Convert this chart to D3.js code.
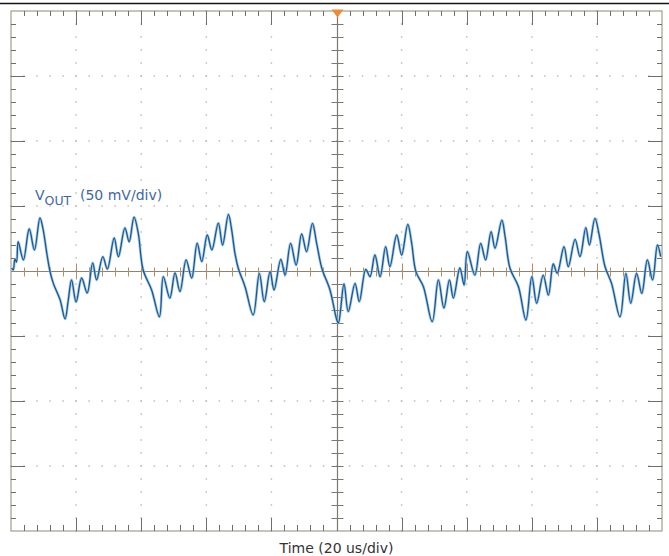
<!DOCTYPE html>
<html>
<head>
<meta charset="utf-8">
<script src="https://cdn.jsdelivr.net/npm/d3@7"></script>
<style>
  html, body { margin: 0; padding: 0; background: #fff; }
  svg { display: block; }
</style>
</head>
<body>
<svg id="chart" width="669" height="556"></svg>
<script>
// Screen layout: 10 horizontal divisions at 20 us/div, 8 vertical at 50 mV/div
const timeDomain = [-100, 100];   // us
const voltDomain = [-200, 200];   // mV
const timePerDiv = 20;
const voltPerDiv = 50;
const minorPerDiv = 5;

// Captured VOUT ripple trace
const timeUs = [-99.8,-99.3,-98.8,-98.3,-97.8,-96.2,-94.4,-92.8,-91.1,-90.1,
  -89.0,-88.0,-87.0,-84.9,-83.4,-82.4,-81.4,-80.0,-78.3,-76.6,
  -74.9,-73.7,-71.8,-70.4,-68.3,-67.0,-65.0,-63.7,-62.2,-60.9,
  -59.4,-56.8,-54.4,-53.2,-51.2,-49.6,-48.1,-46.2,-44.5,-42.8,
  -41.4,-39.7,-38.3,-36.3,-35.0,-33.2,-32.2,-31.2,-30.2,-28.1,
  -25.6,-23.7,-22.2,-20.4,-19.2,-17.1,-15.8,-14.1,-12.4,-10.7,
  -9.2,-7.4,-6.1,-4.5,-2.0,0.1,0.6,2.3,3.6,5.7,
  7.0,9.0,10.3,11.8,13.4,15.1,16.4,18.5,20.0,21.9,
  23.1,24.4,26.7,29.4,31.3,33.0,34.7,35.9,37.9,39.2,
  40.2,42.5,44.3,45.8,47.5,48.7,50.8,51.8,53.3,55.9,
  58.2,60.0,61.5,63.5,65.1,66.6,67.8,69.9,71.2,73.3,
  74.8,76.6,77.7,79.4,80.7,82.5,84.5,87.1,88.9,90.4,
  92.2,93.8,95.5,97.1,98.6,99.6];
const voutMv = [2.3,0.8,9.2,6.9,22.5,8.5,32.3,16.2,40.8,31.5,
  13.6,-0.5,-9.5,-22.3,-36.9,-22.3,-6.9,-23.8,-5.4,-16.9,
  6.2,-6.9,11.0,1.5,25.4,11.0,33.1,22.5,41.5,29.0,
  0.8,-14.6,-35.2,-4.4,-20.8,-1.5,-15.9,8.5,-5.4,21.5,
  7.2,27.7,16.2,36.9,20.0,43.5,31.5,13.6,2.3,-12.1,
  -33.8,-1.8,-23.6,-0.5,-14.6,9.0,-3.1,21.3,4.6,28.5,
  14.8,36.7,21.3,2.1,-14.6,-37.7,-40.0,-10.0,-31.3,-9.5,
  -23.6,1.3,-4.4,12.3,-4.4,18.7,3.3,27.7,12.3,35.9,
  21.3,-0.5,-12.1,-39.0,-6.9,-28.5,-6.9,-20.8,2.3,-10.8,
  14.8,-3.1,21.3,8.5,30.2,17.5,39.2,26.4,2.1,-12.1,
  -37.7,-4.4,-24.8,-3.1,-18.5,5.4,-1.8,18.7,3.3,24.4,
  11.0,33.3,20.0,40.5,27.7,3.3,-9.5,-35.2,-1.8,-24.8,
  -1.8,-17.2,8.5,-6.9,20.0,11.0];

const channelLabel = ["V", "OUT", "(50 mV/div)"];
const timeLabel = "Time (20 us/div)";

const svg = d3.select("#chart");
const plotLeft = 11, plotRight = 662, plotTop = 11, plotBottom = 531;

const x = d3.scaleLinear().domain(timeDomain).range([plotLeft, plotRight]);
const y = d3.scaleLinear().domain(voltDomain).range([plotBottom, plotTop]);

const eps = 1e-6;
const tMajor = d3.range(timeDomain[0], timeDomain[1] + eps, timePerDiv);
const vMajor = d3.range(voltDomain[0], voltDomain[1] + eps, voltPerDiv);
const tMinor = d3.range(timeDomain[0], timeDomain[1] + eps, timePerDiv / minorPerDiv);
const vMinor = d3.range(voltDomain[0], voltDomain[1] + eps, voltPerDiv / minorPerDiv);
const isMajorT = t => Math.abs(t / timePerDiv - Math.round(t / timePerDiv)) < 1e-6;
const isMajorV = v => Math.abs(v / voltPerDiv - Math.round(v / voltPerDiv)) < 1e-6;

// top rule of the capture window
svg.append("line")
  .attr("x1", 0).attr("x2", 669).attr("y1", 3.5).attr("y2", 3.5)
  .attr("stroke", "#151515").attr("stroke-width", 1.6);

// dotted graticule
const grid = svg.append("g").attr("fill", "#bdbdb8");
const innerT = tMajor.filter(t => t > timeDomain[0] && t < timeDomain[1] && t !== 0);
const innerV = vMajor.filter(v => v > voltDomain[0] && v < voltDomain[1] && v !== 0);
const dots = [];
innerT.forEach(t => vMinor.forEach(v => dots.push([t, v])));
innerV.forEach(v => tMinor.forEach(t => dots.push([t, v])));
grid.selectAll("rect").data(dots).join("rect")
  .attr("x", d => x(d[0]) - 0.75).attr("y", d => y(d[1]) - 0.75)
  .attr("width", 1.5).attr("height", 1.5);

// frame
svg.append("rect")
  .attr("x", plotLeft).attr("y", plotTop)
  .attr("width", plotRight - plotLeft).attr("height", plotBottom - plotTop)
  .attr("fill", "none").attr("stroke", "#8c8c7a").attr("stroke-width", 1);

const ticks = svg.append("g").attr("stroke", "#6f6f66").attr("stroke-width", 1);
const tEdge = tMinor.filter(t => t > timeDomain[0] && t < timeDomain[1]);
const vEdge = vMinor.filter(v => v > voltDomain[0] && v < voltDomain[1]);
// top and bottom edge ticks
ticks.selectAll(".tt").data(tEdge).join("line").attr("class", "tt")
  .attr("x1", d => Math.round(x(d)) + 0.5).attr("x2", d => Math.round(x(d)) + 0.5)
  .attr("y1", plotTop).attr("y2", d => plotTop + (isMajorT(d) ? 14 : 5));
ticks.selectAll(".tb").data(tEdge).join("line").attr("class", "tb")
  .attr("x1", d => Math.round(x(d)) + 0.5).attr("x2", d => Math.round(x(d)) + 0.5)
  .attr("y1", plotBottom).attr("y2", d => plotBottom - (isMajorT(d) ? 13 : 6));
// left and right edge ticks
ticks.selectAll(".vl").data(vEdge).join("line").attr("class", "vl")
  .attr("y1", d => Math.round(y(d)) + 0.5).attr("y2", d => Math.round(y(d)) + 0.5)
  .attr("x1", plotLeft).attr("x2", d => plotLeft + (isMajorV(d) ? 14 : 5));
ticks.selectAll(".vr").data(vEdge).join("line").attr("class", "vr")
  .attr("y1", d => Math.round(y(d)) + 0.5).attr("y2", d => Math.round(y(d)) + 0.5)
  .attr("x1", plotRight).attr("x2", d => plotRight - (isMajorV(d) ? 14 : 5));

// centre axes
const cx = Math.round(x(0)) + 0.5, cy = Math.round(y(0)) + 0.5;
const centre = svg.append("g");
centre.append("line").attr("x1", plotLeft).attr("x2", plotRight).attr("y1", cy).attr("y2", cy)
  .attr("stroke", "#8e8270").attr("stroke-width", 1.2);
centre.append("line").attr("x1", cx).attr("x2", cx).attr("y1", plotTop).attr("y2", plotBottom)
  .attr("stroke", "#7c7a70").attr("stroke-width", 1.2);
centre.selectAll(".ch").data(tEdge.filter(t => t !== 0)).join("line").attr("class", "ch")
  .attr("x1", d => Math.round(x(d)) + 0.5).attr("x2", d => Math.round(x(d)) + 0.5)
  .attr("y1", d => cy - (isMajorT(d) ? 8 : 4)).attr("y2", d => cy + (isMajorT(d) ? 8 : 5))
  .attr("stroke", "#b48e62").attr("stroke-width", 1);
centre.selectAll(".cv").data(vEdge.filter(v => v !== 0)).join("line").attr("class", "cv")
  .attr("y1", d => Math.round(y(d)) + 0.5).attr("y2", d => Math.round(y(d)) + 0.5)
  .attr("x1", cx - 6).attr("x2", cx + 6)
  .attr("stroke", "#7c7a70").attr("stroke-width", 1);

// trigger position marker
svg.append("path")
  .attr("d", `M${cx - 6},9.5 L${cx + 6},9.5 L${cx},17.5 Z`)
  .attr("fill", "#ec8a35");

// waveform: light halo under a dark core, like a persistence display
const pts = timeUs.map((t, i) => [t, voutMv[i]]);
const line = d3.line().x(d => x(d[0])).y(d => y(d[1])).curve(d3.curveCatmullRom.alpha(0.5));
svg.append("path").datum(pts).attr("d", line)
  .attr("fill", "none").attr("stroke", "#8fbde0").attr("stroke-width", 2.8)
  .attr("stroke-linejoin", "round").attr("opacity", 0.75);
svg.append("path").datum(pts).attr("d", line)
  .attr("fill", "none").attr("stroke", "#1b5790").attr("stroke-width", 1.3)
  .attr("stroke-linejoin", "round");

// channel label
const lab = svg.append("text")
  .attr("x", 35).attr("y", 200)
  .attr("font-family", "DejaVu Sans, sans-serif").attr("fill", "#3e68a4");
lab.append("tspan").attr("font-size", 14).text(channelLabel[0]);
lab.append("tspan").attr("font-size", 12.5).attr("dy", 4.5).text(channelLabel[1]);
svg.append("text")
  .attr("x", 80).attr("y", 200)
  .attr("font-family", "DejaVu Sans, sans-serif").attr("font-size", 14)
  .attr("fill", "#3e68a4").text(channelLabel[2]);

// time base caption
svg.append("text")
  .attr("x", x(0)).attr("y", 553).attr("text-anchor", "middle")
  .attr("font-family", "DejaVu Sans, sans-serif").attr("font-size", 14)
  .attr("fill", "#333").text(timeLabel);
</script>
</body>
</html>
